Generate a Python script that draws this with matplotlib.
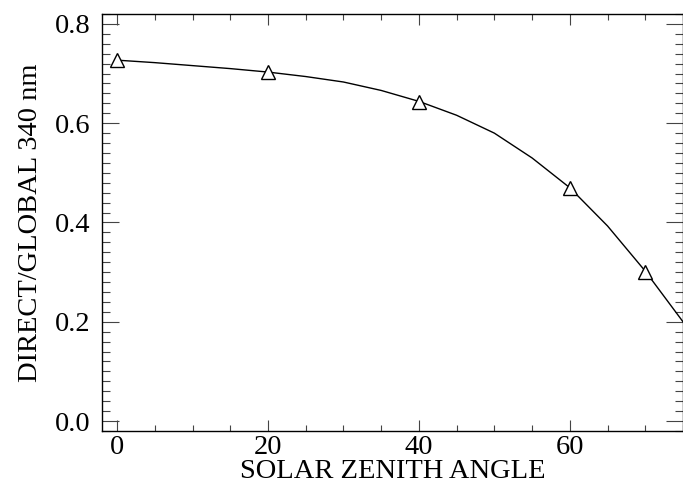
import matplotlib
matplotlib.use('Agg')
import matplotlib.pyplot as plt
from matplotlib.ticker import MultipleLocator

# measured points (triangles)
sza_pts = [0, 20, 40, 60, 70]
ratio_pts = [0.727, 0.703, 0.643, 0.470, 0.300]

# fitted curve, every 5 degrees
sza_fit = [0, 5, 10, 15, 20, 25, 30, 35, 40, 45, 50, 55, 60, 65, 70, 75]
ratio_fit = [0.727, 0.722, 0.716, 0.710, 0.703, 0.694, 0.683, 0.666, 0.644,
             0.616, 0.580, 0.530, 0.470, 0.393, 0.302, 0.200]

plt.rcParams['font.family'] = ['Liberation Serif', 'DejaVu Serif']

fig = plt.figure(figsize=(6.83, 4.84), dpi=100)
ax = fig.add_axes([0.1493, 0.1095, 0.8507, 0.8616])

ax.plot(sza_fit, ratio_fit, color='black', lw=1.0)
ax.plot(sza_pts, ratio_pts, linestyle='none', marker='^', ms=10,
        mfc='white', mec='black', mew=1.0)

ax.set_xlim(-2, 75)
ax.set_ylim(-0.02, 0.82)
ax.xaxis.set_major_locator(MultipleLocator(20))
ax.xaxis.set_minor_locator(MultipleLocator(5))
ax.yaxis.set_major_locator(MultipleLocator(0.2))
ax.yaxis.set_minor_locator(MultipleLocator(0.02))
ax.yaxis.set_major_formatter(plt.FormatStrFormatter('%.1f'))

ax.tick_params(which='both', direction='in', top=True, right=True,
               width=0.8, color='#444444', labelsize=20.5)
ax.tick_params(axis='x', which='major', length=8, pad=3)
ax.tick_params(axis='x', which='minor', length=4)
ax.tick_params(axis='y', which='major', length=12, pad=8)
ax.tick_params(axis='y', which='minor', length=6)

for s in ax.spines.values():
    s.set_linewidth(1.0)

ax.set_xlabel('SOLAR ZENITH ANGLE', fontsize=20.5, labelpad=-1)
ax.set_ylabel('DIRECT/GLOBAL 340 nm', fontsize=20.5, labelpad=9)

fig.savefig('out.png', dpi=100)
